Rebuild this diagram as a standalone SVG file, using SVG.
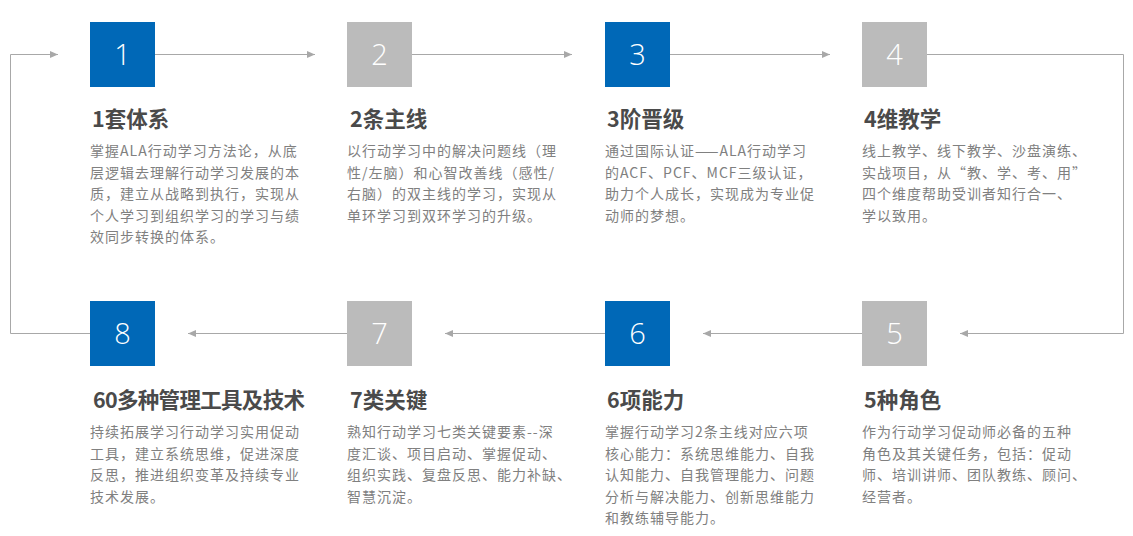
<svg xmlns="http://www.w3.org/2000/svg" width="1133" height="536" viewBox="0 0 1133 536">
<style>
.bg{fill:#ffffff}
.blue{fill:#0068b7}
.gray{fill:#bbbbbb}
.num{font-family:"Open Sans","Liberation Sans",sans-serif;font-weight:300;font-size:29px;fill:#ffffff;text-anchor:middle}
.head{font-family:"Noto Sans CJK SC","Noto Sans",sans-serif;font-weight:700;font-size:21.5px;fill:#4a4a4a}
.body{font-family:"Noto Sans CJK SC","Noto Sans",sans-serif;font-size:14px;letter-spacing:1px;fill:#808080}
.conn{fill:none;stroke:#a8a8a8;stroke-width:1}
</style>
<defs>
<marker id="arr" markerUnits="userSpaceOnUse" markerWidth="9" markerHeight="8" refX="8" refY="3.5" orient="auto">
<path d="M0,0 L8,3.5 L0,7 Z" fill="#a8a8a8"/>
</marker>
</defs>
<rect class="bg" x="0" y="0" width="1133" height="536"/>
<g id="connectors">
<path class="conn" d="M155,54.5 H315" marker-end="url(#arr)"/>
<path class="conn" d="M412,54.5 H572" marker-end="url(#arr)"/>
<path class="conn" d="M670,54.5 H830" marker-end="url(#arr)"/>
<path class="conn" d="M927,54.5 H1123.5 V333.5 H960" marker-end="url(#arr)"/>
<path class="conn" d="M862,333.5 H703" marker-end="url(#arr)"/>
<path class="conn" d="M605,333.5 H445" marker-end="url(#arr)"/>
<path class="conn" d="M347,333.5 H188" marker-end="url(#arr)"/>
<path class="conn" d="M90,333.5 H10.5 V54.5 H58" marker-end="url(#arr)"/>
</g>
<g id="node1">
<rect class="blue" x="90" y="22" width="65" height="65"/>
<text class="num" x="122.5" y="65">1</text>
<text class="head" x="92" y="127">1套体系</text>
<text class="body" x="90" y="156">掌握ALA行动学习方法论，从底</text>
<text class="body" x="90" y="177.5">层逻辑去理解行动学习发展的本</text>
<text class="body" x="90" y="199">质，建立从战略到执行，实现从</text>
<text class="body" x="90" y="220.5">个人学习到组织学习的学习与绩</text>
<text class="body" x="90" y="242">效同步转换的体系。</text>
</g>
<g id="node2">
<rect class="gray" x="347" y="22" width="65" height="65"/>
<text class="num" x="379.5" y="65">2</text>
<text class="head" x="350" y="127">2条主线</text>
<text class="body" x="347" y="156">以行动学习中的解决问题线（理</text>
<text class="body" x="347" y="177.5">性/左脑）和心智改善线（感性/</text>
<text class="body" x="347" y="199">右脑）的双主线的学习，实现从</text>
<text class="body" x="347" y="220.5">单环学习到双环学习的升级。</text>
</g>
<g id="node3">
<rect class="blue" x="605" y="22" width="65" height="65"/>
<text class="num" x="637.5" y="65">3</text>
<text class="head" x="607" y="127">3阶晋级</text>
<text class="body" x="605" y="156">通过国际认证——ALA行动学习</text>
<text class="body" x="605" y="177.5">的ACF、PCF、MCF三级认证，</text>
<text class="body" x="605" y="199">助力个人成长，实现成为专业促</text>
<text class="body" x="605" y="220.5">动师的梦想。</text>
</g>
<g id="node4">
<rect class="gray" x="862" y="22" width="65" height="65"/>
<text class="num" x="894.5" y="65">4</text>
<text class="head" x="864" y="127">4维教学</text>
<text class="body" x="862" y="156">线上教学、线下教学、沙盘演练、</text>
<text class="body" x="862" y="177.5">实战项目，从“教、学、考、用”</text>
<text class="body" x="862" y="199">四个维度帮助受训者知行合一、</text>
<text class="body" x="862" y="220.5">学以致用。</text>
</g>
<g id="node5">
<rect class="gray" x="862" y="301" width="65" height="65"/>
<text class="num" x="894.5" y="344">5</text>
<text class="head" x="864" y="408">5种角色</text>
<text class="body" x="862" y="437">作为行动学习促动师必备的五种</text>
<text class="body" x="862" y="458.5">角色及其关键任务，包括：促动</text>
<text class="body" x="862" y="480">师、培训讲师、团队教练、顾问、</text>
<text class="body" x="862" y="501.5">经营者。</text>
</g>
<g id="node6">
<rect class="blue" x="605" y="301" width="65" height="65"/>
<text class="num" x="637.5" y="344">6</text>
<text class="head" x="607" y="408">6项能力</text>
<text class="body" x="605" y="437">掌握行动学习2条主线对应六项</text>
<text class="body" x="605" y="458.5">核心能力：系统思维能力、自我</text>
<text class="body" x="605" y="480">认知能力、自我管理能力、问题</text>
<text class="body" x="605" y="501.5">分析与解决能力、创新思维能力</text>
<text class="body" x="605" y="523">和教练辅导能力。</text>
</g>
<g id="node7">
<rect class="gray" x="347" y="301" width="65" height="65"/>
<text class="num" x="379.5" y="344">7</text>
<text class="head" x="350" y="408">7类关键</text>
<text class="body" x="347" y="437">熟知行动学习七类关键要素--深</text>
<text class="body" x="347" y="458.5">度汇谈、项目启动、掌握促动、</text>
<text class="body" x="347" y="480">组织实践、复盘反思、能力补缺、</text>
<text class="body" x="347" y="501.5">智慧沉淀。</text>
</g>
<g id="node8">
<rect class="blue" x="90" y="301" width="65" height="65"/>
<text class="num" x="122.5" y="344">8</text>
<text class="head" x="93" y="408" textLength="212" lengthAdjust="spacing">60多种管理工具及技术</text>
<text class="body" x="90" y="437">持续拓展学习行动学习实用促动</text>
<text class="body" x="90" y="458.5">工具，建立系统思维，促进深度</text>
<text class="body" x="90" y="480">反思，推进组织变革及持续专业</text>
<text class="body" x="90" y="501.5">技术发展。</text>
</g>
</svg>
